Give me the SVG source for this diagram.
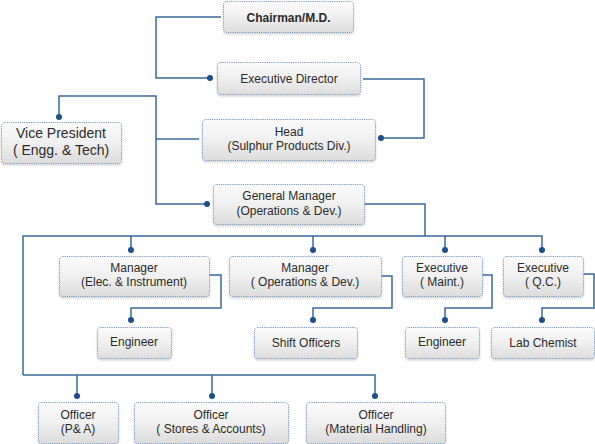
<svg xmlns="http://www.w3.org/2000/svg" width="595" height="444" viewBox="0 0 595 444">
<defs>
<linearGradient id="g" x1="0" y1="0" x2="0" y2="1">
<stop offset="0" stop-color="#fbfbfb"/>
<stop offset="0.5" stop-color="#f0f0f0"/>
<stop offset="1" stop-color="#dcdcdc"/>
</linearGradient>
<filter id="sh" x="-10%" y="-10%" width="120%" height="140%">
<feDropShadow dx="0" dy="1.5" stdDeviation="1.2" flood-color="#000" flood-opacity="0.18"/>
</filter>
</defs>
<style>
.box{fill:url(#g);stroke:#7f9cc2;stroke-width:1;stroke-dasharray:1.2 1;filter:url(#sh)}
.t{font-family:"Liberation Sans",Arial,sans-serif;font-size:12px;fill:#2b2b2b;text-anchor:middle}
.b{font-weight:bold}
.big{font-size:14px}
.ln{fill:none;stroke:#3b6a9d;stroke-width:1.5}
.dot{fill:#1d4f8a}
</style>
<rect width="595" height="444" fill="#fff"/>
<g id="connectors">
<path class="ln" d="M221 17H156V78H210"/>
<path class="ln" d="M363 79H424V138H381"/>
<path class="ln" d="M59 117V96H156V204H207"/>
<path class="ln" d="M156 139H199"/>
<path class="ln" d="M364 204H425V236"/>
<path class="ln" d="M23 375V236H542V250"/>
<path class="ln" d="M131 236V250M313 236V250M445 236V250"/>
<path class="ln" d="M23 375H375V396M77 375V396M212 375V396"/>
<path class="ln" d="M209 275H221V308H131V320"/>
<path class="ln" d="M381 276H392V308H313V320"/>
<path class="ln" d="M482 275H492V308H445V320"/>
<path class="ln" d="M583 274H594V308H542V320"/>
<circle class="dot" cx="210" cy="78" r="3"/>
<circle class="dot" cx="381" cy="138" r="3"/>
<circle class="dot" cx="59" cy="117" r="3"/>
<circle class="dot" cx="207" cy="204" r="3"/>
<circle class="dot" cx="131" cy="250" r="3"/>
<circle class="dot" cx="313" cy="250" r="3"/>
<circle class="dot" cx="445" cy="250" r="3"/>
<circle class="dot" cx="542" cy="250" r="3"/>
<circle class="dot" cx="131" cy="320" r="3"/>
<circle class="dot" cx="313" cy="320" r="3"/>
<circle class="dot" cx="445" cy="320" r="3"/>
<circle class="dot" cx="542" cy="320" r="3"/>
<circle class="dot" cx="77" cy="396" r="3"/>
<circle class="dot" cx="212" cy="396" r="3"/>
<circle class="dot" cx="375" cy="396" r="3"/>
</g>
<g id="chairman"><rect class="box" x="223.5" y="1.5" width="130" height="31" rx="3"/><text class="t b" x="288.5" y="21.5">Chairman/M.D.</text></g>
<g id="exec-director"><rect class="box" x="217.5" y="62.5" width="143" height="32" rx="3"/><text class="t" x="289" y="83">Executive Director</text></g>
<g id="head"><rect class="box" x="202.5" y="119.5" width="173" height="41" rx="3"/><text class="t" x="289" y="136">Head</text><text class="t" x="289" y="150">(Sulphur Products Div.)</text></g>
<g id="vp"><rect class="box" x="1.5" y="122.5" width="120" height="41" rx="3"/><text class="t big" x="61" y="138">Vice President</text><text class="t big" x="61" y="155">( Engg. &amp; Tech)</text></g>
<g id="gm"><rect class="box" x="213.5" y="184.5" width="151" height="40" rx="3"/><text class="t" x="289" y="200">General Manager</text><text class="t" x="289" y="215">(Operations &amp; Dev.)</text></g>
<g id="mgr-elec"><rect class="box" x="59.5" y="256.5" width="150" height="40" rx="3"/><text class="t" x="134" y="272">Manager</text><text class="t" x="134" y="286">(Elec. &amp; Instrument)</text></g>
<g id="mgr-ops"><rect class="box" x="229.5" y="256.5" width="152" height="40" rx="3"/><text class="t" x="305" y="272">Manager</text><text class="t" x="305" y="286">( Operations &amp; Dev.)</text></g>
<g id="exec-maint"><rect class="box" x="402.5" y="256.5" width="80" height="40" rx="3"/><text class="t" x="442" y="272">Executive</text><text class="t" x="442" y="286">( Maint.)</text></g>
<g id="exec-qc"><rect class="box" x="503.5" y="256.5" width="80" height="40" rx="3"/><text class="t" x="543" y="272">Executive</text><text class="t" x="543" y="286">( Q.C.)</text></g>
<g id="engineer1"><rect class="box" x="97.5" y="327.5" width="74" height="31" rx="3"/><text class="t" x="134" y="346">Engineer</text></g>
<g id="shift-officers"><rect class="box" x="254.5" y="327.5" width="103" height="31" rx="3"/><text class="t" x="306" y="347">Shift Officers</text></g>
<g id="engineer2"><rect class="box" x="405.5" y="327.5" width="74" height="31" rx="3"/><text class="t" x="442" y="346">Engineer</text></g>
<g id="lab-chemist"><rect class="box" x="491.5" y="327.5" width="103" height="31" rx="3"/><text class="t" x="543" y="347">Lab Chemist</text></g>
<g id="officer-pa"><rect class="box" x="38.5" y="402.5" width="80" height="41" rx="3"/><text class="t" x="78" y="419">Officer</text><text class="t" x="78" y="433">(P&amp; A)</text></g>
<g id="officer-stores"><rect class="box" x="134.5" y="402.5" width="154" height="41" rx="3"/><text class="t" x="211" y="419">Officer</text><text class="t" x="211" y="433">( Stores &amp; Accounts)</text></g>
<g id="officer-material"><rect class="box" x="306.5" y="402.5" width="139" height="41" rx="3"/><text class="t" x="376" y="419">Officer</text><text class="t" x="376" y="433">(Material Handling)</text></g>
</svg>
